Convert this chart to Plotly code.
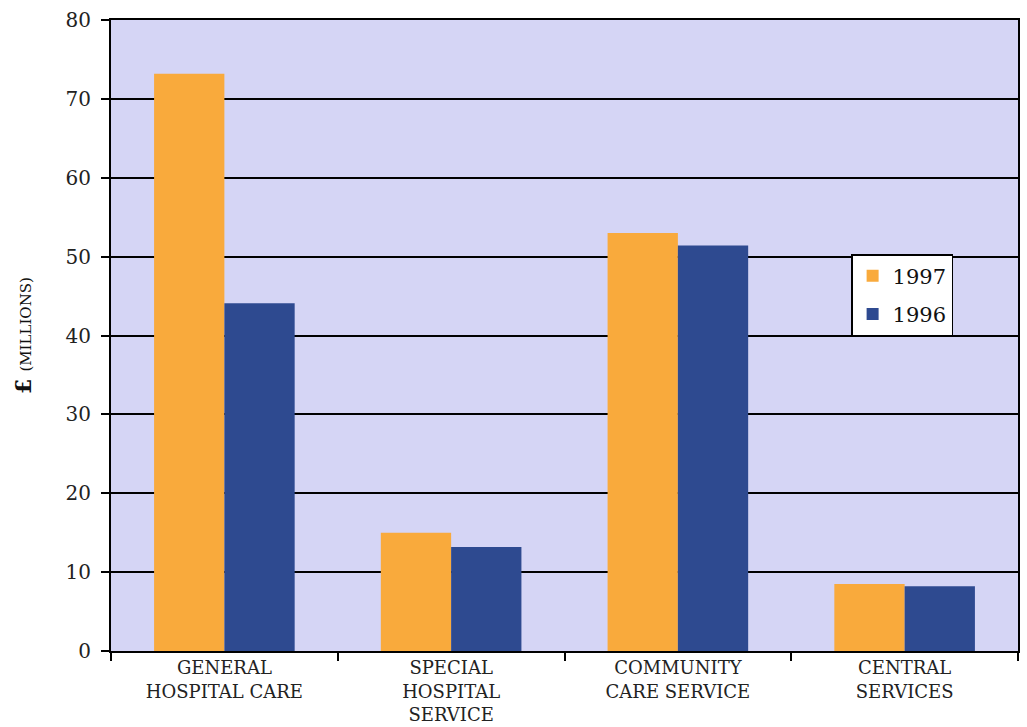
import plotly.graph_objects as go

categories = ["GENERAL<br>HOSPITAL CARE", "SPECIAL<br>HOSPITAL<br>SERVICE",
              "COMMUNITY<br>CARE SERVICE", "CENTRAL<br>SERVICES"]
values_1997 = [73.2, 15.0, 53.0, 8.5]
values_1996 = [44.1, 13.2, 51.4, 8.2]
y_ticks = [0, 10, 20, 30, 40, 50, 60, 70, 80]

FONT = "DejaVu Serif"

fig = go.Figure()
fig.add_trace(go.Bar(name="1997", x=categories, y=values_1997,
                     marker=dict(color="#F9AA3C", line=dict(width=0)),
                     legendgroup="a"))
fig.add_trace(go.Bar(name="1996", x=categories, y=values_1996,
                     marker=dict(color="#2E4A90", line=dict(width=0)),
                     legendgroup="b"))

fig.update_layout(
    width=1027, height=727,
    margin=dict(l=111, r=9, t=20, b=76),
    paper_bgcolor="white",
    plot_bgcolor="#D5D5F5",
    barmode="group",
    bargap=0.38,
    bargroupgap=0,
    font=dict(family=FONT, color="#222"),
    legend=dict(x=0.816, y=0.629, xanchor="left", yanchor="top",
                bgcolor="white", bordercolor="black", borderwidth=1.5,
                font=dict(family=FONT, size=21, color="#111"),
                tracegroupgap=8, itemwidth=30),
    xaxis=dict(
        tickson="boundaries", ticks="outside", ticklen=8, tickwidth=1.5,
        tickcolor="black", showline=True, linecolor="black", linewidth=1.5,
        mirror=True, automargin=False,
        tickfont=dict(family=FONT, size=18, color="#222"),
    ),
    yaxis=dict(
        range=[0, 80], tickvals=y_ticks, ticks="outside", ticklen=8,
        tickwidth=1.5, tickcolor="black",
        showline=True, linecolor="black", linewidth=2, mirror=True,
        showgrid=True, gridcolor="black", gridwidth=1.5,
        zeroline=False, ticklabelstandoff=6, automargin=False,
        tickfont=dict(family=FONT, size=20, color="#222"),
        title=dict(text="<b>£</b> <span style='font-size:15px'>(MILLIONS)</span>",
                   font=dict(family=FONT, size=22, color="#111"),
                   standoff=28),
    ),
)

fig.write_html("out.html")
